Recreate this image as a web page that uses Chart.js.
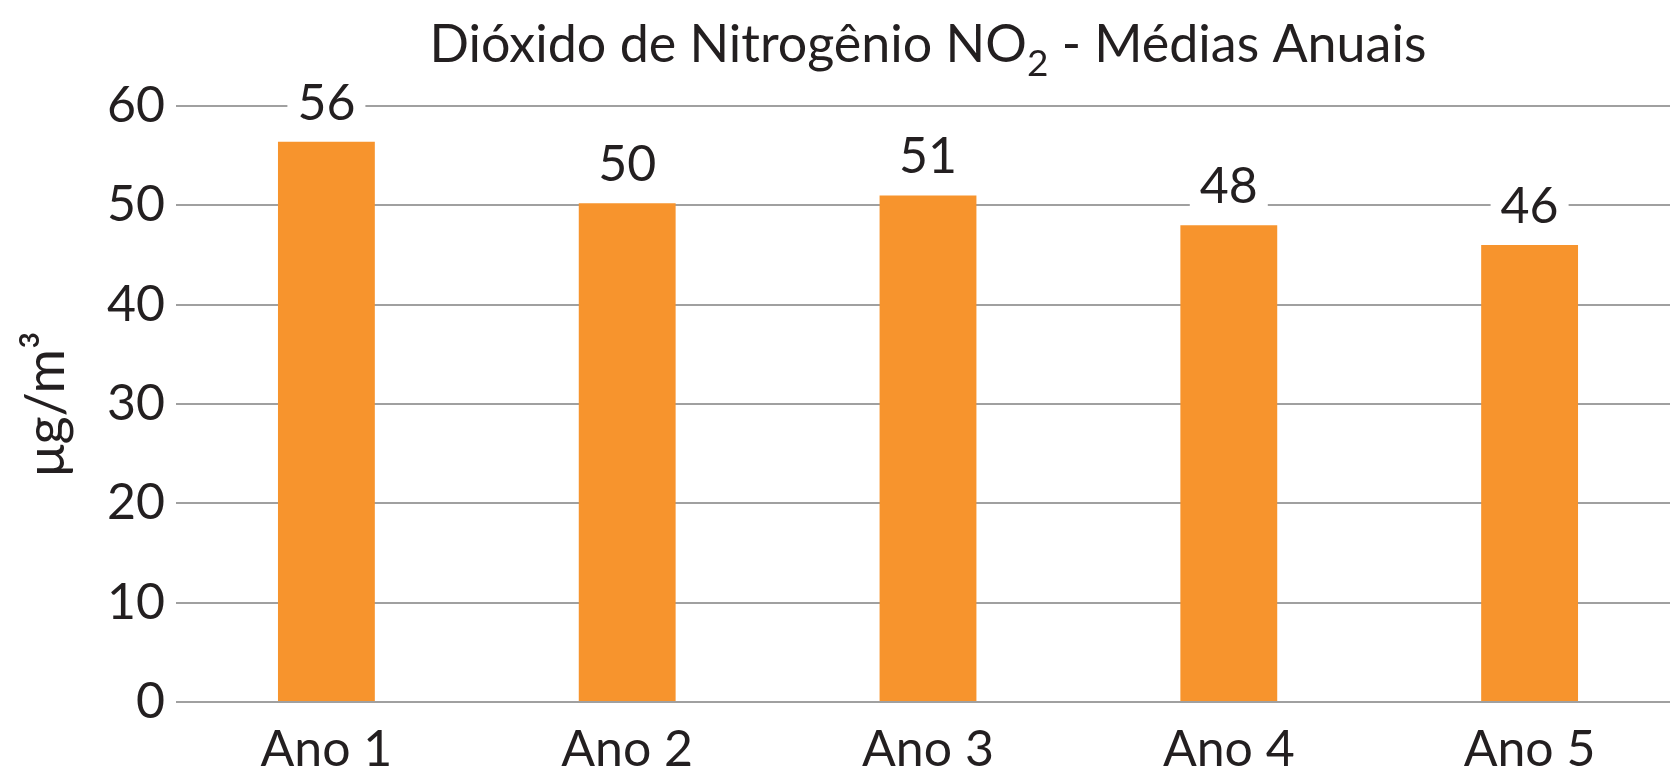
<!DOCTYPE html>
<html>
<head>
<meta charset="utf-8">
<script src="https://cdn.jsdelivr.net/npm/chart.js@4.4.0/dist/chart.umd.min.js"></script>
<style>
  html, body { margin: 0; padding: 0; background: #fff; overflow: hidden; }
  #wrap { width: 1690px; height: 766px; }
</style>
</head>
<body>
<div id="wrap"><canvas id="no2-canvas"></canvas></div>
<script>
// ── Dados ──
const anos    = ['Ano 1', 'Ano 2', 'Ano 3', 'Ano 4', 'Ano 5'];
const medias  = [56.4, 50.2, 51, 48, 46];
const yTicks  = [0, 10, 20, 30, 40, 50, 60];

const titulo1 = 'Dióxido de Nitrogênio NO';
const tituloSub = '2';
const titulo2 = ' - Médias Anuais';
const unidade = 'μg/m³';

const FONT  = 'Lato';
const INK   = '#231f20';
const GRID  = '#a0a0a0';
const LARANJA = '#f7942d';

// título com subscrito, centrado na área do gráfico
const titlePlugin = {
  id: 'tituloNO2',
  afterDraw(chart) {
    const { ctx, chartArea } = chart;
    const big = `52px ${FONT}`, small = `37px ${FONT}`;
    ctx.save();
    ctx.fillStyle = INK;
    ctx.textBaseline = 'alphabetic';
    ctx.font = big;
    const w1 = ctx.measureText(titulo1).width;
    const w3 = ctx.measureText(titulo2).width;
    ctx.font = small;
    const w2 = ctx.measureText(tituloSub).width;
    let x = (chartArea.left + chartArea.right) / 2 - (w1 + w2 + w3) / 2;
    const y = 62;
    ctx.font = big;
    ctx.fillText(titulo1, x, y); x += w1;
    ctx.font = small;
    ctx.fillText(tituloSub, x, y + 14); x += w2;
    ctx.font = big;
    ctx.fillText(titulo2, x, y);
    ctx.restore();
  }
};

// rótulos de valor acima das barras, com fundo branco
const labelPlugin = {
  id: 'rotulos',
  afterDatasetsDraw(chart) {
    const { ctx } = chart;
    const meta = chart.getDatasetMeta(0);
    ctx.save();
    ctx.font = `50px ${FONT}`;
    ctx.textAlign = 'center';
    ctx.textBaseline = 'alphabetic';
    meta.data.forEach((bar, i) => {
      const txt = String(Math.round(medias[i]));
      const w = ctx.measureText(txt).width;
      const base = bar.y - 22;
      ctx.fillStyle = '#fff';
      ctx.fillRect(bar.x - w / 2 - 10, base - 40, w + 20, 44);
      ctx.fillStyle = INK;
      ctx.fillText(txt, bar.x, base);
    });
    ctx.restore();
  }
};

new Chart(document.getElementById('no2-canvas'), {
  type: 'bar',
  data: {
    labels: anos,
    datasets: [{
      data: medias,
      backgroundColor: LARANJA,
      borderWidth: 0,
      categoryPercentage: 1,
      barPercentage: 0.322,
    }],
  },
  options: {
    responsive: true,
    maintainAspectRatio: false,
    animation: false,
    layout: { padding: { top: 106, right: 10, left: 0, bottom: 0 } },
    plugins: { legend: { display: false }, tooltip: { enabled: false }, title: { display: false } },
    scales: {
      x: {
        grid: { display: false },
        border: { display: false },
        ticks: { color: INK, font: { family: FONT, size: 50 }, padding: 10 },
        afterFit: s => { s.height = 64; },
      },
      y: {
        min: 0, max: 60,
        afterBuildTicks: s => { s.ticks = yTicks.map(v => ({ value: v })); },
        grid: { color: GRID, lineWidth: 2, drawTicks: false },
        border: { display: false },
        ticks: { color: INK, font: { family: FONT, size: 50 }, padding: 11 },
        title: { display: true, text: unidade, color: INK, font: { family: FONT, size: 54 }, padding: { top: 14, bottom: 0 } },
        afterFit: s => { s.width = 176; },
      },
    },
  },
  plugins: [titlePlugin, labelPlugin],
});
</script>
</body>
</html>
